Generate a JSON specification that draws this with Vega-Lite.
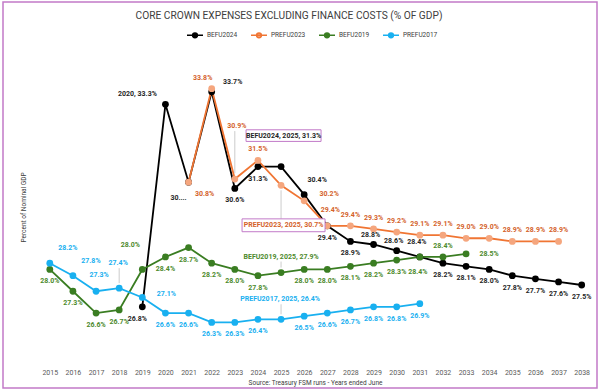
{
  "$schema": "https://vega.github.io/schema/vega-lite/v6.json",
  "width": 594,
  "height": 386,
  "autosize": {"type": "none"},
  "padding": {"left": 3, "top": 2, "right": 3, "bottom": 2},
  "background": "white",
  "config": {
    "view": {"stroke": "#c27ac8", "strokeWidth": 1.5},
    "font": "Roboto"
  },
  "title": {
    "text": "CORE CROWN EXPENSES EXCLUDING FINANCE COSTS (% OF GDP)",
    "fontSize": 10.2,
    "fontWeight": "normal",
    "color": "#404040",
    "font": "Roboto",
    "anchor": "middle",
    "dx": -11,
    "dy": 23
  },
  "data": {
    "values": [
      {"series": "BEFU2024", "year": 2019, "value": 26.8, "label": "26.8%", "pos": "bl"},
      {"series": "BEFU2024", "year": 2020, "value": 33.3, "label": "2020, 33.3%", "pos": "al20"},
      {"series": "BEFU2024", "year": 2021, "value": 30.8, "label": "30....", "pos": "bl2"},
      {"series": "BEFU2024", "year": 2022, "value": 33.7, "label": "33.7%", "pos": "ar"},
      {"series": "BEFU2024", "year": 2023, "value": 30.6, "label": "30.6%", "pos": "b"},
      {"series": "BEFU2024", "year": 2024, "value": 31.3, "label": "31.3%", "pos": "b"},
      {"series": "BEFU2024", "year": 2025, "value": 31.3, "label": "BEFU2024, 2025, 31.3%", "pos": "box1"},
      {"series": "BEFU2024", "year": 2026, "value": 30.4, "label": "30.4%", "pos": "ar3"},
      {"series": "BEFU2024", "year": 2027, "value": 29.4, "label": "29.4%", "pos": "b"},
      {"series": "BEFU2024", "year": 2028, "value": 28.9, "label": "28.9%", "pos": "b"},
      {"series": "BEFU2024", "year": 2029, "value": 28.8, "label": "28.8%", "pos": "al1"},
      {"series": "BEFU2024", "year": 2030, "value": 28.6, "label": "28.6%", "pos": "al1"},
      {"series": "BEFU2024", "year": 2031, "value": 28.4, "label": "28.4%", "pos": "al1b"},
      {"series": "BEFU2024", "year": 2032, "value": 28.2, "label": "28.2%", "pos": "b"},
      {"series": "BEFU2024", "year": 2033, "value": 28.1, "label": "28.1%", "pos": "b"},
      {"series": "BEFU2024", "year": 2034, "value": 28.0, "label": "28.0%", "pos": "b"},
      {"series": "BEFU2024", "year": 2035, "value": 27.8, "label": "27.8%", "pos": "b"},
      {"series": "BEFU2024", "year": 2036, "value": 27.7, "label": "27.7%", "pos": "b"},
      {"series": "BEFU2024", "year": 2037, "value": 27.6, "label": "27.6%", "pos": "b"},
      {"series": "BEFU2024", "year": 2038, "value": 27.5, "label": "27.5%", "pos": "b"},

      {"series": "PREFU2023", "year": 2021, "value": 30.8, "label": "30.8%", "pos": "br"},
      {"series": "PREFU2023", "year": 2022, "value": 33.8, "label": "33.8%", "pos": "al"},
      {"series": "PREFU2023", "year": 2023, "value": 30.9, "label": "30.9%", "pos": "a5"},
      {"series": "PREFU2023", "year": 2024, "value": 31.5, "label": "31.5%", "pos": "a"},
      {"series": "PREFU2023", "year": 2025, "value": 30.7, "label": "PREFU2023, 2025, 30.7%", "pos": "box2"},
      {"series": "PREFU2023", "year": 2026, "value": 30.2, "label": "30.2%", "pos": "r"},
      {"series": "PREFU2023", "year": 2027, "value": 29.4, "label": "29.4%", "pos": "a2"},
      {"series": "PREFU2023", "year": 2028, "value": 29.4, "label": "29.4%", "pos": "a"},
      {"series": "PREFU2023", "year": 2029, "value": 29.3, "label": "29.3%", "pos": "a"},
      {"series": "PREFU2023", "year": 2030, "value": 29.2, "label": "29.2%", "pos": "a"},
      {"series": "PREFU2023", "year": 2031, "value": 29.1, "label": "29.1%", "pos": "a"},
      {"series": "PREFU2023", "year": 2032, "value": 29.1, "label": "29.1%", "pos": "a"},
      {"series": "PREFU2023", "year": 2033, "value": 29.0, "label": "29.0%", "pos": "a"},
      {"series": "PREFU2023", "year": 2034, "value": 29.0, "label": "29.0%", "pos": "a"},
      {"series": "PREFU2023", "year": 2035, "value": 28.9, "label": "28.9%", "pos": "a"},
      {"series": "PREFU2023", "year": 2036, "value": 28.9, "label": "28.9%", "pos": "a"},
      {"series": "PREFU2023", "year": 2037, "value": 28.9, "label": "28.9%", "pos": "a"},

      {"series": "BEFU2019", "year": 2015, "value": 28.0, "label": "28.0%", "pos": "b"},
      {"series": "BEFU2019", "year": 2016, "value": 27.3, "label": "27.3%", "pos": "b"},
      {"series": "BEFU2019", "year": 2017, "value": 26.6, "label": "26.6%", "pos": "b"},
      {"series": "BEFU2019", "year": 2018, "value": 26.7, "label": "26.7%", "pos": "b"},
      {"series": "BEFU2019", "year": 2019, "value": 28.0, "label": "28.0%", "pos": "al3"},
      {"series": "BEFU2019", "year": 2020, "value": 28.4, "label": "28.4%", "pos": "b"},
      {"series": "BEFU2019", "year": 2021, "value": 28.7, "label": "28.7%", "pos": "b"},
      {"series": "BEFU2019", "year": 2022, "value": 28.2, "label": "28.2%", "pos": "b"},
      {"series": "BEFU2019", "year": 2023, "value": 28.0, "label": "28.0%", "pos": "b"},
      {"series": "BEFU2019", "year": 2024, "value": 27.8, "label": "27.8%", "pos": "b"},
      {"series": "BEFU2019", "year": 2025, "value": 27.9, "label": "BEFU2019, 2025, 27.9%", "pos": "a6"},
      {"series": "BEFU2019", "year": 2026, "value": 28.0, "label": "28.0%", "pos": "b"},
      {"series": "BEFU2019", "year": 2027, "value": 28.0, "label": "28.0%", "pos": "b"},
      {"series": "BEFU2019", "year": 2028, "value": 28.1, "label": "28.1%", "pos": "b"},
      {"series": "BEFU2019", "year": 2029, "value": 28.2, "label": "28.2%", "pos": "b"},
      {"series": "BEFU2019", "year": 2030, "value": 28.3, "label": "28.3%", "pos": "b"},
      {"series": "BEFU2019", "year": 2031, "value": 28.4, "label": "28.4%", "pos": "b2"},
      {"series": "BEFU2019", "year": 2032, "value": 28.4, "label": "28.4%", "pos": "a"},
      {"series": "BEFU2019", "year": 2033, "value": 28.5, "label": "28.5%", "pos": "rg"},

      {"series": "PREFU2017", "year": 2015, "value": 28.2, "label": "28.2%", "pos": "ar1"},
      {"series": "PREFU2017", "year": 2016, "value": 27.8, "label": "27.8%", "pos": "ar1"},
      {"series": "PREFU2017", "year": 2017, "value": 27.3, "label": "27.3%", "pos": "a2"},
      {"series": "PREFU2017", "year": 2018, "value": 27.4, "label": "27.4%", "pos": "a3"},
      {"series": "PREFU2017", "year": 2019, "value": 27.1, "label": "27.1%", "pos": "r2"},
      {"series": "PREFU2017", "year": 2020, "value": 26.6, "label": "26.6%", "pos": "b"},
      {"series": "PREFU2017", "year": 2021, "value": 26.6, "label": "26.6%", "pos": "b"},
      {"series": "PREFU2017", "year": 2022, "value": 26.3, "label": "26.3%", "pos": "b"},
      {"series": "PREFU2017", "year": 2023, "value": 26.3, "label": "26.3%", "pos": "b"},
      {"series": "PREFU2017", "year": 2024, "value": 26.4, "label": "26.4%", "pos": "b"},
      {"series": "PREFU2017", "year": 2025, "value": 26.4, "label": "PREFU2017, 2025, 26.4%", "pos": "a7"},
      {"series": "PREFU2017", "year": 2026, "value": 26.5, "label": "26.5%", "pos": "b"},
      {"series": "PREFU2017", "year": 2027, "value": 26.6, "label": "26.6%", "pos": "b"},
      {"series": "PREFU2017", "year": 2028, "value": 26.7, "label": "26.7%", "pos": "b"},
      {"series": "PREFU2017", "year": 2029, "value": 26.8, "label": "26.8%", "pos": "b"},
      {"series": "PREFU2017", "year": 2030, "value": 26.8, "label": "26.8%", "pos": "b"},
      {"series": "PREFU2017", "year": 2031, "value": 26.9, "label": "26.9%", "pos": "b"}
    ]
  },
  "encoding": {
    "x": {
      "field": "year",
      "type": "quantitative",
      "scale": {"domain": [2012.976, 2038.662], "nice": false, "zero": false},
      "axis": {
        "values": [2015, 2016, 2017, 2018, 2019, 2020, 2021, 2022, 2023, 2024, 2025, 2026, 2027, 2028, 2029, 2030, 2031, 2032, 2033, 2034, 2035, 2036, 2037, 2038],
        "format": "d",
        "grid": false,
        "ticks": false,
        "domain": false,
        "labelFontSize": 7,
        "labelColor": "#595959",
        "labelPadding": 6,
        "labelFlush": false,
        "offset": -26,
        "title": "Source: Treasury FSM runs - Years ended June",
        "titleFontSize": 6.5,
        "titleFontWeight": "normal",
        "titleColor": "#404040",
        "titlePadding": 4,
        "titleX": 312
      }
    },
    "y": {
      "field": "value",
      "type": "quantitative",
      "scale": {"domain": [24.195, 36.582], "nice": false, "zero": false},
      "axis": {
        "labels": false,
        "ticks": false,
        "domain": false,
        "grid": false,
        "title": "Percent of Nominal GDP",
        "titleFontSize": 6.5,
        "titleFontWeight": "normal",
        "titleColor": "#404040",
        "titleX": 20,
        "titleY": 205,
        "titleAngle": -90,
        "titleBaseline": "middle",
        "titleAlign": "center"
      }
    }
  },
  "layer": [
    {
      "data": {"values": [{}]},
      "mark": {"type": "rule", "color": "#d9d9d9", "strokeWidth": 1},
      "encoding": {
        "x": {"datum": 2014.5, "type": "quantitative"},
        "x2": {"datum": 2038.5},
        "y": {"datum": 25, "type": "quantitative"}
      }
    },
    {
      "mark": {"type": "line", "strokeWidth": 1.8},
      "encoding": {
        "stroke": {
          "field": "series",
          "type": "nominal",
          "scale": {"domain": ["BEFU2024", "PREFU2023", "BEFU2019", "PREFU2017"], "range": ["#000000", "#f07533", "#3a7d22", "#19b0f0"]},
          "legend": {
            "title": null,
            "orient": "none",
            "direction": "horizontal",
            "legendX": 183,
            "legendY": 24,
            "symbolType": "M-1,0H1M-0.3,0A0.3,0.3,0,1,1,0.3,0A0.3,0.3,0,1,1,-0.3,0Z",
            "symbolSize": 256,
            "symbolStrokeWidth": 1.5,
            "labelFontSize": 6.5,
            "labelColor": "#404040",
            "labelOffset": 3,
            "columnPadding": 10,
            "padding": 0,
            "encode": {"symbols": {"update": {"fill": {"scale": "fill", "field": "value"}}}}
          }
        }
      }
    },
    {
      "mark": {"type": "point", "filled": true, "size": 46, "opacity": 1},
      "encoding": {
        "fill": {
          "field": "series",
          "type": "nominal",
          "scale": {"domain": ["BEFU2024", "PREFU2023", "BEFU2019", "PREFU2017"], "range": ["#000000", "#f5a67e", "#3a7d22", "#19b0f0"]},
          "legend": null
        }
      }
    },
    {
      "transform": [{"filter": "indexof(['a5','box2','a7','a6','a3'], datum.pos) >= 0"}],
      "mark": {
        "type": "rule",
        "color": "#bfbfbf",
        "strokeWidth": 0.8,
        "yOffset": {"expr": "{'a5':-6,'box2':5,'a7':-5,'a6':-5,'a3':-5}[datum.pos]"},
        "y2Offset": {"expr": "{'a5':-48,'box2':34,'a7':-15,'a6':-11,'a3':-20}[datum.pos]"}
      },
      "encoding": {
        "y2": {"field": "value"}
      }
    },
    {
      "transform": [{"filter": "datum.pos == 'box1' || datum.pos == 'box2'"}],
      "mark": {
        "type": "point",
        "shape": "M-1,-0.155H1V0.155H-1Z",
        "fill": "white",
        "stroke": "#c27ac8",
        "strokeWidth": 1,
        "opacity": 1,
        "size": {"expr": "datum.pos == 'box1' ? 5625 : 6889"},
        "xOffset": 2.5,
        "yOffset": {"expr": "datum.pos == 'box1' ? -31 : 40"}
      },
      "encoding": {}
    },
    {
      "mark": {
        "type": "text",
        "fontSize": 7,
        "fontWeight": "bold",
        "font": "Roboto",
        "baseline": "middle",
        "align": "center",
        "dx": {"expr": "{'b':0,'a':0,'ar1':18,'a2':3,'a3':-1,'al3':-12,'r2':24,'bl':-5,'al20':-28,'bl2':-10,'br':16,'al':-9,'ar':21,'a5':2,'box1':2.5,'box2':2.5,'ar3':13,'r':25,'al1':-3,'al1b':-3,'a6':0,'a7':-1,'rg':23,'b2':-2}[datum.pos]"},
        "dy": {"expr": "{'b':12,'a':-11,'ar1':-15,'a2':-16,'a3':-25,'al3':-24,'r2':-3,'bl':12,'al20':-10,'bl2':16,'br':12,'al':-11,'ar':-10,'a5':-53,'box1':-31,'box2':40,'ar3':-15,'r':-7,'al1':-10,'al1b':-15,'a6':-16,'a7':-20,'rg':0,'b2':15}[datum.pos]"}
      },
      "encoding": {
        "text": {"field": "label"},
        "color": {
          "field": "series",
          "type": "nominal",
          "scale": {"domain": ["BEFU2024", "PREFU2023", "BEFU2019", "PREFU2017"], "range": ["#262626", "#d4622a", "#4d8a2c", "#19b0f0"]},
          "legend": null
        }
      }
    }
  ]
}
